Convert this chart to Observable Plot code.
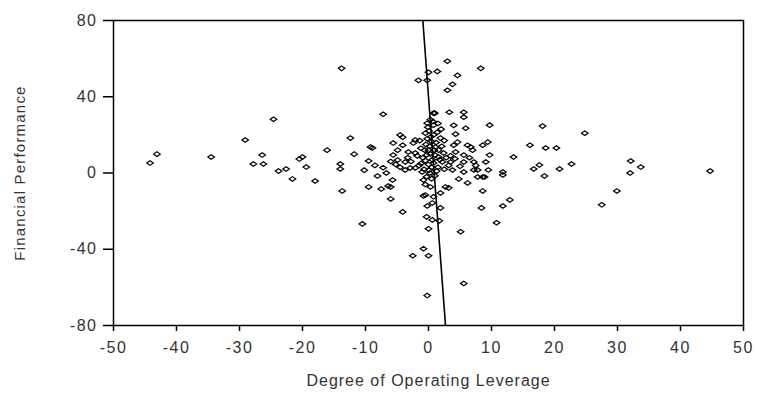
<!DOCTYPE html>
<html>
<head>
<meta charset="utf-8">
<script src="https://cdn.jsdelivr.net/npm/d3@7"></script>
<script src="https://cdn.jsdelivr.net/npm/@observablehq/plot@0.6"></script>
<style>
  html, body { margin: 0; padding: 0; background: #fff; }
  #chart svg { display: block; }
</style>
</head>
<body>
<div id="chart"></div>
<script>
// Degree of Operating Leverage (x) vs Financial Performance (y)
const dolValues = [
  -44.2,-43.1,-34.5,-29.1,-24.6,-27.8,-26.4,-26.2,-23.8,-22.6,-21.6,-20.5,-20.0,-19.4,-18.0,-16.1,
  -13.8,-14.0,-14.0,-13.7,-12.4,-11.8,-10.5,-9.2,-9.5,-9.5,-8.9,-8.1,-7.5,-7.2,-7.2,-6.7,-6.4,-6.0,
  -6.0,-5.7,-5.6,-5.6,-4.9,-4.9,-4.5,-4.1,-4.1,-4.1,-3.7,-3.7,-3.2,-2.9,-2.5,-2.4,-2.1,-2.1,-2.1,
  -1.6,-0.8,-0.8,-0.8,-0.5,-0.5,-0.3,-0.2,-0.2,-0.2,-0.2,0.0,0.0,0.0,0.3,0.6,0.6,0.8,0.8,0.8,0.8,
  1.0,1.1,1.4,1.4,1.6,1.7,1.9,1.9,1.9,2.2,2.4,2.7,3.0,3.0,3.2,3.3,3.5,3.8,3.8,4.0,4.3,4.3,4.6,4.6,
  4.8,5.1,5.6,5.6,5.6,5.6,5.6,5.6,5.9,6.2,6.2,6.7,7.0,7.2,7.2,7.8,7.8,8.3,8.4,8.6,8.6,8.6,8.9,9.1,
  9.4,9.5,9.7,9.7,10.8,11.8,11.8,11.8,12.9,13.5,16.1,16.7,17.6,18.1,18.4,18.6,20.3,20.8,22.7,24.8,
  27.5,29.9,32.0,32.1,33.7,44.7,
  -1.2,-0.9,-0.6,-0.4,-0.2,0.1,0.3,0.5,0.2,-0.3,0.6,0.9,1.2,0.4,-0.1,0.7,0.2,-0.7,-1.5,-1.8,1.5,1.8,
  2.5,2.8,3.2,-2.8,-3.3,-1.2,-0.5,0.5,1.0,1.3,0.0,-0.3,0.8,0.1,-1.0,1.6,2.1,-1.4,0.3,0.0,0.5,-0.5,
  1.0,4.2,5.0,3.5,6.5,7.5,2.5,-4.5,-5.2,-6.0,-8.5,-10.2,4.0,2.0,1.5
];
const perfValues = [
  5.2,9.9,8.4,17.3,28.2,4.7,9.4,4.7,1.0,2.1,-3.1,7.3,8.4,3.1,-4.2,12.0,
  54.9,4.7,2.1,-9.4,18.3,9.9,-26.7,13.6,6.3,-7.3,13.1,-1.6,-8.4,2.8,30.8,0.0,-6.8,-13.6,
  -7.3,-3.7,15.7,9.4,12.0,6.8,19.9,18.8,14.6,-20.4,5.8,1.6,11.0,2.6,-43.4,15.7,17.3,10.5,2.6,
  48.6,-3.7,-12.0,-39.7,20.9,-11.5,-23.0,48.6,26.1,-17.3,-64.3,52.8,-29.3,-43.4,-7.3,-15.7,-24.6,31.4,25.1,5.2,-12.5,
  31.4,13.6,53.3,21.4,8.4,-25.1,18.3,-18.3,-10.5,5.8,10.5,-7.3,58.6,43.4,-7.8,31.9,5.8,46.5,1.6,14.6,20.4,11.0,51.2,16.2,
  -3.1,-30.8,31.9,29.3,9.4,5.8,0.5,-58.0,23.5,14.6,-5.2,13.6,12.0,5.8,1.6,1.6,-2.1,54.9,-18.3,14.6,-2.1,-9.4,-2.1,5.8,
  16.2,1.6,25.1,9.4,-26.1,0.5,-1.0,-17.3,-14.1,8.4,14.6,2.1,4.2,24.6,-1.6,13.1,13.1,2.1,4.7,20.9,
  -16.7,-9.4,0.0,6.3,3.1,1.0,
  5,8,12,15,18,22,10,3,0,-2,7,12,16,19,24,27,14,2,4,9,3,7,
  2,8,4,6,8,13,6.5,16.5,9.5,1,4.5,9.5,20,1.5,0.5,12,14,17,28,12,-3,-6,
  -1.5,7.5,3.5,9,8,4,17,3,4.5,6,4,1.5,25,23,26
];
// fitted line endpoints
const fitX = [-0.9, 2.7];
const fitY = [80, -80];

const xTicks = [-50,-40,-30,-20,-10,0,10,20,30,40,50];
const yTicks = [-80,-40,0,40,80];
const xTitle = "Degree of Operating Leverage";
const yTitle = "Financial Performance";

const points = dolValues.map((x, i) => ({x, y: perfValues[i]}));
const fit = fitX.map((x, i) => ({x, y: fitY[i]}));

// small wide hollow diamond marker
const wideDiamond = {
  draw(context, size) {
    const w = 3.3, h = 2.3;
    context.moveTo(-w, 0);
    context.lineTo(0, -h);
    context.lineTo(w, 0);
    context.lineTo(0, h);
    context.closePath();
  }
};

const fmt = d => String(d);

const chart = Plot.plot({
  width: 757,
  height: 401,
  marginLeft: 113,
  marginRight: 14,
  marginTop: 20,
  marginBottom: 76,
  style: {fontFamily: "'Liberation Sans', Arial, sans-serif", background: "#fff"},
  x: {domain: [-50, 50]},
  y: {domain: [-80, 80]},
  marks: [
    Plot.dot(points, {x: "x", y: "y", symbol: wideDiamond, r: 3, stroke: "#000", strokeWidth: 1.2, fill: "none"}),
    Plot.line(fit, {x: "x", y: "y", stroke: "#000", strokeWidth: 1.6, clip: true}),
    Plot.frame({stroke: "#000", strokeWidth: 1.5}),
    Plot.axisX({ticks: xTicks, tickFormat: fmt, tickSize: 6, tickPadding: 10, stroke: "#000", strokeWidth: 1.5,
      fontSize: 16, fill: "#333", label: null}),
    Plot.axisY({ticks: yTicks, tickFormat: fmt, tickSize: 10, tickPadding: 6, stroke: "#000", strokeWidth: 1.5,
      fontSize: 16, fill: "#333", label: null}),
    Plot.text([xTitle], {frameAnchor: "bottom", dy: 60, fontSize: 16, textAnchor: "middle", fill: "#333"}),
    Plot.text([yTitle], {frameAnchor: "left", dx: -93, rotate: -90, fontSize: 15, textAnchor: "middle", fill: "#333"})
  ]
});
const tickStrings = new Set([...xTicks, ...yTicks].map(String));
d3.select(chart).selectAll("text").each(function() {
  const t = this.textContent;
  if (t === xTitle) this.setAttribute("letter-spacing", "1");
  else if (t === yTitle) this.setAttribute("letter-spacing", "1.2");
  else if (tickStrings.has(t)) this.setAttribute("letter-spacing", "1.5");
});
document.getElementById("chart").appendChild(chart);
</script>
</body>
</html>
